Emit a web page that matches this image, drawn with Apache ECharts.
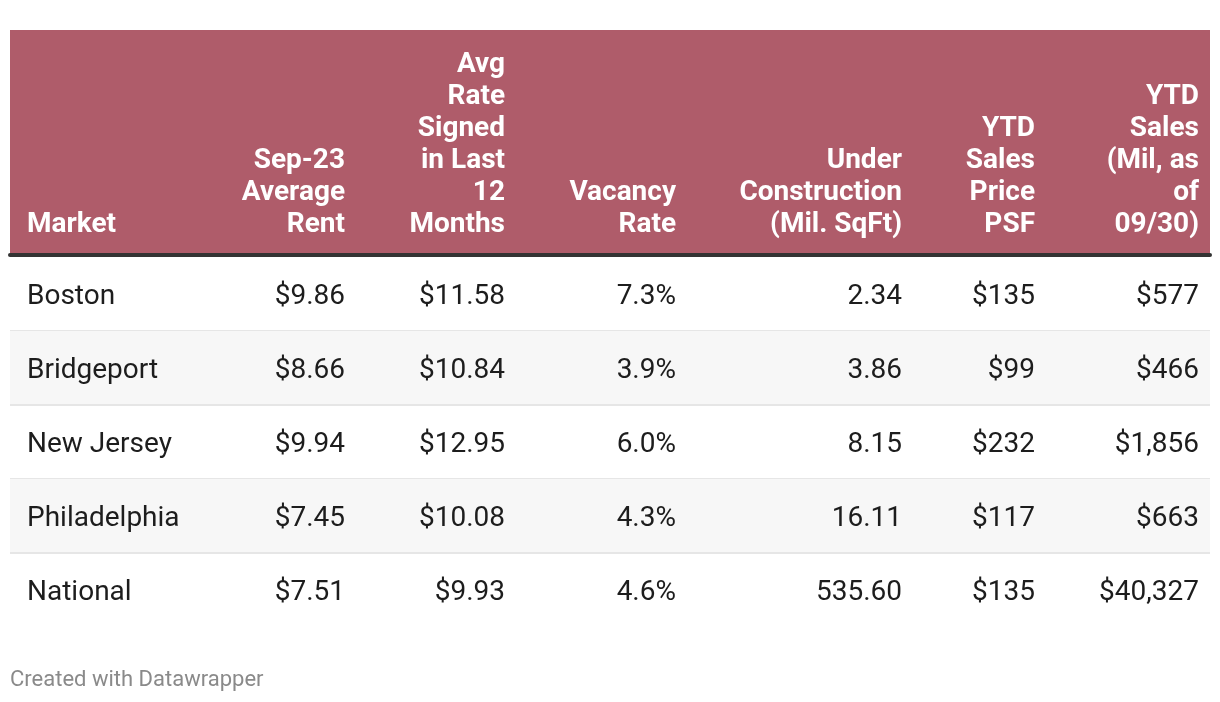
<!DOCTYPE html>
<html>
<head>
<meta charset="utf-8">
<title>Market table</title>
<script src="https://cdn.jsdelivr.net/npm/echarts@6/dist/echarts.min.js"></script>
<style>
  html, body { margin: 0; padding: 0; background: #fff; }
  #main { width: 1220px; height: 702px; }
</style>
</head>
<body>
<div id="main"></div>
<script>
// table data
var headers = ['Market', 'Sep-23\nAverage\nRent', 'Avg\nRate\nSigned\nin Last\n12\nMonths', 'Vacancy\nRate',
  'Under\nConstruction\n(Mil. SqFt)', 'YTD\nSales\nPrice\nPSF', 'YTD\nSales\n(Mil, as\nof\n09/30)'];
var markets = ['Boston', 'Bridgeport', 'New Jersey', 'Philadelphia', 'National'];
var avgRent = [9.86, 8.66, 9.94, 7.45, 7.51];
var rateSigned = [11.58, 10.84, 12.95, 10.08, 9.93];
var vacancy = [7.3, 3.9, 6.0, 4.3, 4.6];
var underConstruction = [2.34, 3.86, 8.15, 16.11, 535.60];
var salesPsf = [135, 99, 232, 117, 135];
var ytdSales = [577, 466, 1856, 663, 40327];

// layout: column anchor on the 0..1200 x scale (first is left aligned, rest right aligned)
var colAnchor = [17, 335, 495, 666, 892, 1025, 1189];

function money(v, d) { return '$' + v.toLocaleString('en-US', {minimumFractionDigits: d, maximumFractionDigits: d}); }
var columns = [
  markets,
  avgRent.map(function (v) { return money(v, 2); }),
  rateSigned.map(function (v) { return money(v, 2); }),
  vacancy.map(function (v) { return v.toFixed(1) + '%'; }),
  underConstruction.map(function (v) { return v.toFixed(2); }),
  salesPsf.map(function (v) { return money(v, 0); }),
  ytdSales.map(function (v) { return money(v, 0); })
];

var headData = headers.map(function (h, c) { return [colAnchor[c], 0, c]; });
var bodyData = [];
for (var r = 0; r < markets.length; r++) {
  for (var c = 0; c < columns.length; c++) {
    bodyData.push([colAnchor[c], r, c]);
  }
}

var chart = echarts.init(document.getElementById('main'));
chart.setOption({
  animation: false,
  backgroundColor: '#fff',
  title: {
    text: 'Created with Datawrapper',
    left: 5, top: 664,
    textStyle: { fontFamily: 'Roboto', fontSize: 22, fontWeight: 'normal', color: '#8a8a8a' }
  },
  grid: [
    { left: 10, top: 30, width: 1200, height: 225, show: true, backgroundColor: '#af5c6a', borderWidth: 0 },
    { left: 10, top: 257, width: 1200, height: 370, show: false }
  ],
  xAxis: [
    { gridIndex: 0, type: 'value', min: 0, max: 1200, position: 'bottom',
      axisLine: { show: true, lineStyle: { color: '#333', width: 4 } },
      axisTick: { show: false }, axisLabel: { show: false }, splitLine: { show: false } },
    { gridIndex: 1, type: 'value', min: 0, max: 1200, show: false }
  ],
  yAxis: [
    { gridIndex: 0, type: 'value', min: 0, max: 225, show: false },
    { gridIndex: 1, type: 'category', data: markets, inverse: true, show: false }
  ],
  series: [
    {
      type: 'custom', xAxisIndex: 0, yAxisIndex: 0, clip: false,
      data: headData,
      renderItem: function (params, api) {
        var c = api.value(2);
        var p = api.coord([api.value(0), 0]);
        return {
          type: 'text',
          style: {
            text: headers[c], x: p[0], y: p[1] - 14,
            align: c === 0 ? 'left' : 'right', verticalAlign: 'bottom',
            fill: '#fff', font: 'bold 28px Roboto', lineHeight: 32
          }
        };
      }
    },
    {
      type: 'custom', xAxisIndex: 1, yAxisIndex: 1, clip: false,
      data: bodyData,
      renderItem: function (params, api) {
        var r = api.value(1), c = api.value(2);
        var p = api.coord([api.value(0), r]);
        var h = api.size([0, 1])[1];
        var left = api.coord([0, r])[0], right = api.coord([1200, r])[0];
        var kids = [];
        if (c === 0) {
          if (r % 2 === 1) {
            kids.push({ type: 'rect', shape: { x: left, y: p[1] - h / 2, width: right - left, height: h },
              style: { fill: '#f7f7f7' } });
          }
          if (r < markets.length - 1) {
            kids.push({ type: 'rect', shape: { x: left, y: p[1] + h / 2 - 1, width: right - left, height: 2 },
              style: { fill: '#e6e6e6' } });
          }
        }
        kids.push({
          type: 'text',
          style: {
            text: columns[c][r], x: p[0], y: p[1] + 3,
            align: c === 0 ? 'left' : 'right', verticalAlign: 'middle',
            fill: '#1d1d1d', font: '28px Roboto'
          }
        });
        return { type: 'group', children: kids };
      }
    }
  ]
});
</script>
</body>
</html>
